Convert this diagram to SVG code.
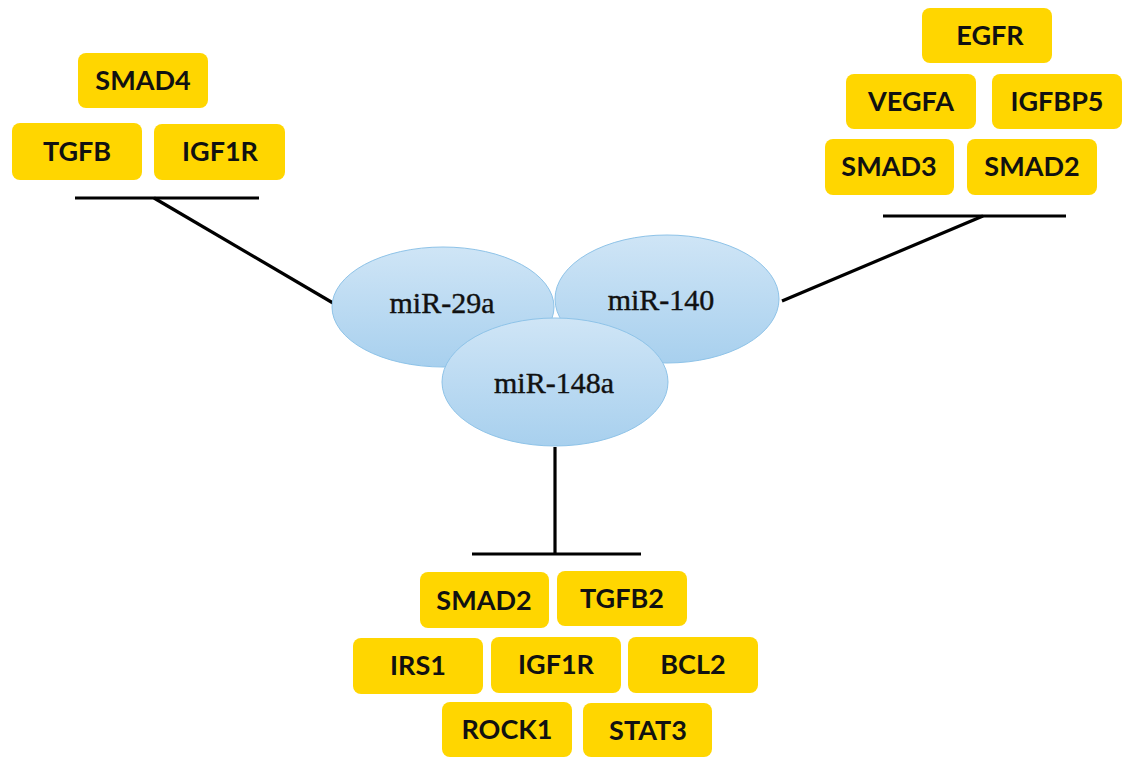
<svg xmlns="http://www.w3.org/2000/svg" width="1129" height="757" viewBox="0 0 1129 757">
<defs>
<linearGradient id="blue" x1="0" y1="0" x2="0" y2="1">
<stop offset="0" stop-color="#cfe5f6"/>
<stop offset="1" stop-color="#a8d0ee"/>
</linearGradient>
<style>
.box{fill:#FFD600;}
.bt{font-family:Lato,"Liberation Sans",sans-serif;font-weight:bold;font-size:27px;fill:#111;text-anchor:middle;}
.mir{fill:url(#blue);stroke:#8ec3e8;stroke-width:1;}
.mt{font-family:"Liberation Serif","Times New Roman",serif;font-size:30px;fill:#111;stroke:#111;stroke-width:0.4;text-anchor:middle;}
.ln{stroke:#000;stroke-width:3.2;fill:none;stroke-linecap:butt;}
</style>
</defs>
<rect width="1129" height="757" fill="#fff"/>
<g id="connectors">
<line class="ln" x1="75" y1="198" x2="259" y2="198"/>
<line class="ln" x1="154" y1="198" x2="333" y2="303"/>
<line class="ln" x1="883" y1="216" x2="1066" y2="216"/>
<line class="ln" x1="983" y1="216" x2="782" y2="301"/>
<line class="ln" x1="555" y1="447" x2="555" y2="554"/>
<line class="ln" x1="472" y1="554" x2="641" y2="554"/>
</g>
<g id="mir-29a"><ellipse class="mir" cx="443" cy="307" rx="111" ry="60"/><text class="mt" x="442" y="313">miR-29a</text></g>
<g id="mir-140"><ellipse class="mir" cx="667" cy="299" rx="112" ry="64"/><text class="mt" x="661" y="310">miR-140</text></g>
<g id="mir-148a"><ellipse class="mir" cx="555" cy="382" rx="113" ry="64"/><text class="mt" x="554" y="393">miR-148a</text></g>
<g id="smad4-l"><rect class="box" x="78" y="53" width="130" height="55" rx="8"/><text class="bt" x="143" y="90">SMAD4</text></g>
<g id="tgfb-l"><rect class="box" x="12" y="123" width="130" height="57" rx="8"/><text class="bt" x="77" y="161">TGFB</text></g>
<g id="igf1r-l"><rect class="box" x="154" y="124" width="131" height="56" rx="8"/><text class="bt" x="220" y="161">IGF1R</text></g>
<g id="egfr-r"><rect class="box" x="922" y="8" width="130" height="55" rx="8"/><text class="bt" x="990" y="45">EGFR</text></g>
<g id="vegfa-r"><rect class="box" x="846" y="74" width="130" height="55" rx="8"/><text class="bt" x="911" y="111">VEGFA</text></g>
<g id="igfbp5-r"><rect class="box" x="992" y="74" width="130" height="55" rx="8"/><text class="bt" x="1057" y="111">IGFBP5</text></g>
<g id="smad3-r"><rect class="box" x="825" y="139" width="129" height="56" rx="8"/><text class="bt" x="889" y="176">SMAD3</text></g>
<g id="smad2-r"><rect class="box" x="967" y="139" width="130" height="56" rx="8"/><text class="bt" x="1032" y="176">SMAD2</text></g>
<g id="smad2-b"><rect class="box" x="420" y="572" width="129" height="56" rx="8"/><text class="bt" x="484" y="610">SMAD2</text></g>
<g id="tgfb2-b"><rect class="box" x="557" y="571" width="130" height="55" rx="8"/><text class="bt" x="622" y="608">TGFB2</text></g>
<g id="irs1-b"><rect class="box" x="353" y="638" width="130" height="56" rx="8"/><text class="bt" x="418" y="675">IRS1</text></g>
<g id="igf1r-b"><rect class="box" x="491" y="637" width="130" height="56" rx="8"/><text class="bt" x="556" y="674">IGF1R</text></g>
<g id="bcl2-b"><rect class="box" x="628" y="637" width="130" height="56" rx="8"/><text class="bt" x="693" y="674">BCL2</text></g>
<g id="rock1-b"><rect class="box" x="442" y="702" width="130" height="55" rx="8"/><text class="bt" x="507" y="739">ROCK1</text></g>
<g id="stat3-b"><rect class="box" x="583" y="703" width="129" height="54" rx="8"/><text class="bt" x="648" y="740">STAT3</text></g>
</svg>
